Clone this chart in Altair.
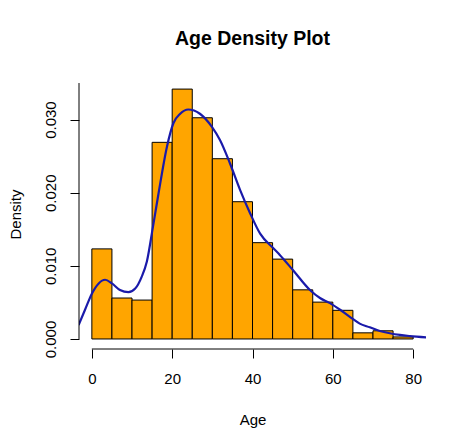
import altair as alt
import pandas as pd

# Histogram bins (5-year wide) and densities
bin_start = [0, 5, 10, 15, 20, 25, 30, 35, 40, 45, 50, 55, 60, 65, 70, 75]
bin_end = [5, 10, 15, 20, 25, 30, 35, 40, 45, 50, 55, 60, 65, 70, 75, 80]
bar_density = [0.01232, 0.00560, 0.00532, 0.02689, 0.03417, 0.03025, 0.02465,
               0.01877, 0.01317, 0.01092, 0.00672, 0.00504, 0.00392, 0.00084,
               0.00112, 0.00028]

# Kernel density curve
curve_age = [-3.3, -1.7, 0.0, 1.7, 3.3, 5.0, 7.0, 9.1, 10.8, 12.4, 13.7, 15.2,
             16.6, 18.7, 20.3, 22.0, 24.0, 26.9, 29.9, 31.9, 34.4, 36.9, 39.4,
             41.9, 45.2, 46.8, 50.1, 54.3, 56.8, 59.3, 61.8, 64.3, 66.7, 69.2,
             71.7, 74.2, 76.7, 79.2, 83.3]
curve_density = [0.0019, 0.0040, 0.0062, 0.0076, 0.0081, 0.0076, 0.0067, 0.0064,
                 0.0069, 0.0085, 0.0106, 0.0153, 0.0199, 0.0263, 0.0295, 0.0308,
                 0.03138, 0.0308, 0.0290, 0.0272, 0.0240, 0.0204, 0.0172, 0.0144,
                 0.0124, 0.0115, 0.0094, 0.0067, 0.0056, 0.0049, 0.0040, 0.0030,
                 0.0021, 0.0016, 0.0011, 0.00078, 0.00055, 0.0004, 0.00023]

x_ticks = [0, 20, 40, 60, 80]
y_ticks = [0.0, 0.005, 0.010, 0.015, 0.020, 0.025, 0.030, 0.035]

FONT = "Liberation Sans"

bars_df = pd.DataFrame({"start": bin_start, "end": bin_end, "density": bar_density})
curve_df = pd.DataFrame({"age": curve_age, "density": curve_density})

x_scale = alt.Scale(domain=[-3.2, 83.2], nice=False, zero=False)
y_scale = alt.Scale(domain=[-0.00137, 0.03555], nice=False, zero=False)

x_axis = alt.Axis(values=x_ticks, title="Age", domain=False, grid=False,
                  tickSize=9, tickColor="black", labelColor="black",
                  labelFontSize=15, labelFont=FONT, labelPadding=13,
                  titleFont=FONT, titleFontSize=15, titleFontWeight="normal",
                  titleColor="black", titlePadding=26, labelFlush=False)
y_axis = alt.Axis(values=y_ticks, title="Density", domain=False, grid=False,
                  tickSize=9, tickColor="black", labelColor="black",
                  labelFontSize=15, labelFont=FONT, labelPadding=12,
                  labelAngle=270, labelAlign="center", labelBaseline="bottom",
                  labelExpr="round(datum.value*1000) % 10 == 0 ? format(datum.value, '.3f') : ''",
                  titleFont=FONT, titleFontSize=15, titleFontWeight="normal",
                  titleColor="black", titlePadding=20, labelFlush=False,
                  labelOverlap=False)

bars = alt.Chart(bars_df).mark_rect(fill="#FFA500", stroke="black", strokeWidth=1).encode(
    x=alt.X("start:Q", scale=x_scale, axis=x_axis),
    x2="end:Q",
    y=alt.Y("density:Q", scale=y_scale, axis=y_axis),
    y2=alt.datum(0),
)

line = alt.Chart(curve_df).mark_line(color="#1A1AAA", strokeWidth=2.2,
                                     interpolate="monotone", clip=True).encode(
    x=alt.X("age:Q", scale=x_scale),
    y=alt.Y("density:Q", scale=y_scale),
)

y_line = alt.Chart(alt.Data(values=[{}])).mark_rule(color="black", strokeWidth=1).encode(
    x=alt.value(0),
    y=alt.datum(y_ticks[0], scale=y_scale),
    y2=alt.datum(y_ticks[-1]),
)

x_line = alt.Chart(alt.Data(values=[{}])).mark_rule(color="black", strokeWidth=1).encode(
    y=alt.value(270),
    x=alt.datum(x_ticks[0], scale=x_scale),
    x2=alt.datum(x_ticks[-1]),
)

chart = alt.layer(bars, line, y_line, x_line).properties(
    width=347,
    height=270,
    title=alt.TitleParams("Age Density Plot", font=FONT, fontSize=19.5,
                          fontWeight="bold", color="black", anchor="middle",
                          frame="group", baseline="alphabetic", offset=15),
    autosize=alt.AutoSizeParams(type="none"),
    padding={"left": 71, "top": 71, "right": 30, "bottom": 86},
).configure(background="white").configure_view(strokeWidth=0, stroke="transparent")

chart.save("out.html", embed_options={"renderer": "svg", "actions": False})
